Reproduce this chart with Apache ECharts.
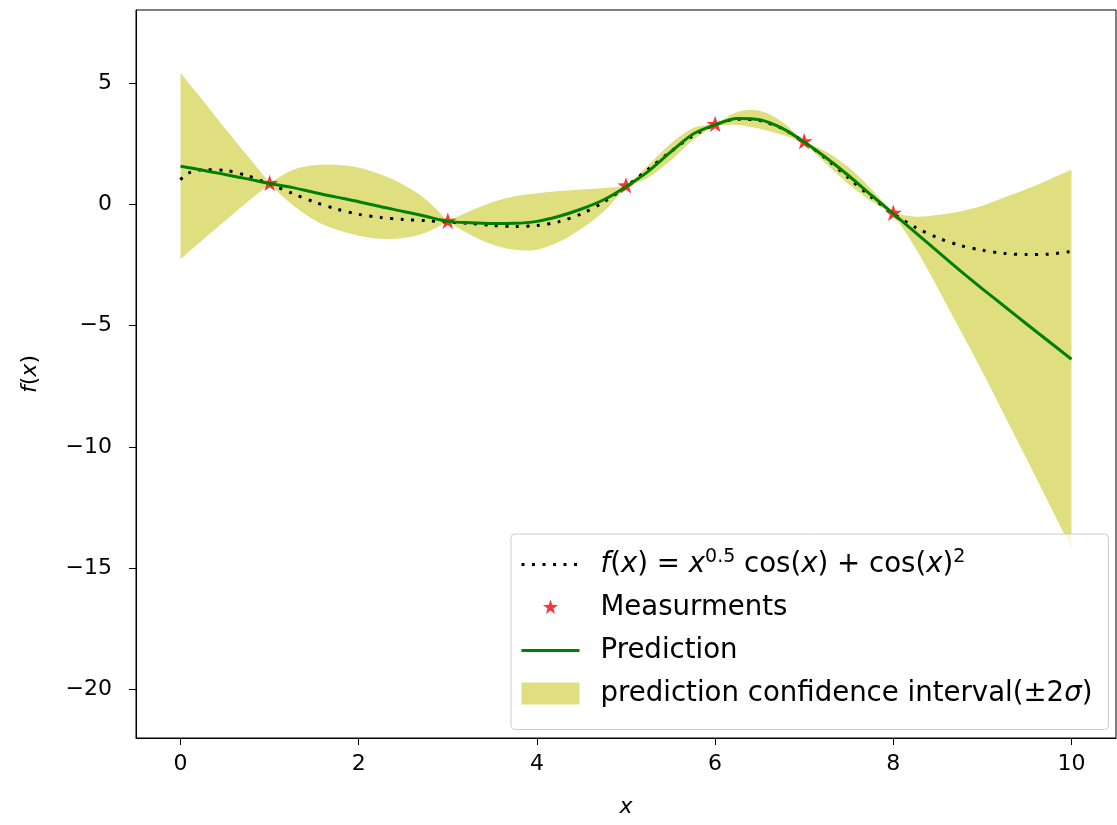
<!DOCTYPE html>
<html>
<head>
<meta charset="utf-8">
<title>GP regression</title>
<script src="https://cdn.jsdelivr.net/npm/echarts@6/dist/echarts.min.js"></script>
<style>
  html, body { margin: 0; padding: 0; background: #fff; }
  #chart { width: 1117px; height: 825px; }
</style>
</head>
<body>
<div id="chart"></div>
<script>
// true function
const trueX = [0, 0.05, 0.1, 0.25, 0.5, 0.75, 1, 1.25, 1.5, 1.75, 2, 2.25, 2.5, 2.75, 3, 3.25, 3.5, 3.75, 4, 4.25, 4.5, 4.75, 5,
  5.25, 5.5, 5.75, 6, 6.25, 6.5, 6.75, 7, 7.25, 7.5, 7.75, 8, 8.25, 8.5, 8.75, 9, 9.25, 9.5, 9.75, 10]
const trueY = [1.00, 1.22, 1.30, 1.42, 1.39, 1.17, 0.83, 0.45, 0.09, -0.20, -0.42, -0.55, -0.63, -0.68, -0.74, -0.80, -0.88, -0.92, -0.88, -0.72, -0.40, 0.08, 0.72,
  1.44, 2.16, 2.81, 3.27, 3.50, 3.44, 3.12, 2.56, 1.86, 1.07, 0.30, -0.39, -0.96, -1.39, -1.70, -1.90, -2.03, -2.08, -2.06, -1.95]

// measurements
const measX = [1, 3, 5, 6, 7, 8]
const measY = [0.84, -0.72, 0.74, 3.27, 2.56, -0.39]

// prediction and confidence band, same x grid
const gridX = [0, 0.25, 0.5, 0.75, 1, 1.25, 1.5, 1.75, 2, 2.25, 2.5, 2.75, 3, 3.25, 3.5, 3.75, 4, 4.25, 4.5, 4.75, 5,
  5.25, 5.5, 5.75, 6, 6.25, 6.5, 6.75, 7, 7.25, 7.5, 7.75, 8, 8.25, 8.5, 8.75, 9, 9.25, 9.5, 9.75, 10]
const predY = [1.56, 1.40, 1.22, 1.04, 0.85, 0.69, 0.48, 0.29, 0.10, -0.11, -0.30, -0.50, -0.71, -0.77, -0.80, -0.79, -0.71, -0.50, -0.20, 0.18, 0.72,
  1.35, 2.14, 2.88, 3.27, 3.53, 3.48, 3.13, 2.56, 1.90, 1.17, 0.38, -0.39, -1.17, -1.96, -2.74, -3.49, -4.22, -4.95, -5.67, -6.39]
const upperY = [5.40, 4.27, 3.12, 1.99, 0.87, 1.40, 1.60, 1.62, 1.50, 1.22, 0.80, 0.20, -0.69, -0.28, 0.08, 0.32, 0.45, 0.54, 0.60, 0.66, 0.74,
  1.60, 2.49, 3.13, 3.29, 3.80, 3.85, 3.40, 2.58, 2.15, 1.52, 0.63, -0.37, -0.52, -0.45, -0.30, -0.07, 0.28, 0.62, 1.02, 1.42]
const lowerY = [-2.26, -1.47, -0.68, 0.09, 0.83, -0.02, -0.65, -1.05, -1.30, -1.43, -1.40, -1.18, -0.73, -1.26, -1.66, -1.88, -1.88, -1.55, -1.00, -0.30, 0.70,
  1.10, 1.79, 2.63, 3.25, 3.26, 3.11, 2.86, 2.54, 1.65, 0.82, 0.13, -0.41, -1.82, -3.47, -5.18, -6.91, -8.72, -10.52, -12.36, -14.20]

const xTicks = [0, 2, 4, 6, 8, 10]
const yTicks = [-20, -15, -10, -5, 0, 5]

const fName = 'f(x) = x^0.5 cos(x) + cos(x)^2'
const measName = 'Measurments'
const predName = 'Prediction'
const bandName = 'prediction confidence interval(±2σ)'

const FONT = 'DejaVu Sans'
const bandColor = 'rgba(191,191,0,0.5)'
// star marker inside a padded box, so the legend icon keeps a sane size
const star = 'path://M0,0M100,100M50,14L58.23,38.67L84.24,38.88L63.32,54.33L71.16,79.12L50,64L28.84,79.12L36.68,54.33L15.76,38.88L41.77,38.67Z'

const pairs = (xs, ys) => xs.map((x, i) => [x, ys[i]])
const minus = v => String(v).replace('-', '\u2212')

// smooth edge through pixel points, with corners kept at the measurement pinches
function edgePath(pts, corners) {
  const n = pts.length
  const tangent = (i, out) => {
    if (i === 0 || i === n - 1 || corners.has(i)) {
      const a = out ? pts[i] : pts[i - 1]
      const b = out ? pts[i + 1] : pts[i]
      return [b[0] - a[0], b[1] - a[1]]
    }
    return [(pts[i + 1][0] - pts[i - 1][0]) / 2, (pts[i + 1][1] - pts[i - 1][1]) / 2]
  }
  let d = ''
  for (let i = 0; i < n - 1; i++) {
    const t0 = tangent(i, true)
    const t1 = tangent(i + 1, false)
    const p0 = pts[i]
    const p1 = pts[i + 1]
    d += ' C' + (p0[0] + t0[0] / 3) + ',' + (p0[1] + t0[1] / 3) + ' ' +
      (p1[0] - t1[0] / 3) + ',' + (p1[1] - t1[1] / 3) + ' ' + p1[0] + ',' + p1[1]
  }
  return d
}

const chart = echarts.init(document.getElementById('chart'))
chart.setOption({
  animation: false,
  textStyle: { fontFamily: FONT, color: '#000' },
  grid: {
    left: 136, right: 1, top: 10, bottom: 87,
    show: true, borderColor: '#000', borderWidth: 1
  },
  xAxis: {
    type: 'value',
    min: -0.5,
    max: 10.5,
    name: 'x',
    nameLocation: 'middle',
    nameGap: 58,
    nameTextStyle: { fontFamily: FONT, fontSize: 22, fontStyle: 'italic', color: '#000' },
    axisLine: { show: true, onZero: false, lineStyle: { color: '#000', width: 1 } },
    axisTick: { show: true, length: 7, customValues: xTicks, lineStyle: { color: '#000' } },
    axisLabel: { customValues: xTicks, margin: 15, fontSize: 22, color: '#000', fontFamily: FONT, formatter: minus },
    splitLine: { show: false }
  },
  yAxis: {
    type: 'value',
    min: -22,
    max: 8,
    name: '{i|f}({i|x})',
    nameLocation: 'middle',
    nameGap: 95,
    nameRotate: 90,
    nameTextStyle: {
      fontFamily: FONT, fontSize: 22, color: '#000',
      rich: { i: { fontFamily: FONT, fontSize: 22, fontStyle: 'italic', color: '#000' } }
    },
    axisLine: { show: true, onZero: false, lineStyle: { color: '#000', width: 1 } },
    axisTick: { show: true, length: 7, customValues: yTicks, lineStyle: { color: '#000' } },
    axisLabel: { customValues: yTicks, margin: 24, fontSize: 22, color: '#000', fontFamily: FONT, formatter: minus },
    splitLine: { show: false }
  },
  legend: {
    orient: 'vertical',
    left: 511,
    top: 534,
    padding: [14, 16, 21, 9],
    itemWidth: 58,
    itemHeight: 22,
    itemGap: 13,
    backgroundColor: 'rgba(255,255,255,0.8)',
    borderColor: '#cccccc',
    borderWidth: 1,
    borderRadius: 4,
    data: [
      { name: fName, itemStyle: { opacity: 0 }, lineStyle: { color: '#000', width: 3, type: [3, 7.5], cap: 'butt' } },
      measName,
      { name: predName, itemStyle: { opacity: 0 }, lineStyle: { color: '#008000', width: 3 } },
      { name: bandName, icon: 'rect' }
    ],
    formatter: name => {
      if (name === fName) return '{i|f}({i|x}) = {i|x}{sup|0.5} cos({i|x}) + cos({i|x}){sup|2}'
      if (name === bandName) return 'prediction confidence interval(\u00b12{i|\u03c3})'
      return name
    },
    textStyle: {
      fontFamily: FONT, fontSize: 27.6, color: '#000', lineHeight: 30, padding: [0, 0, 0, 16],
      rich: {
        i: { fontFamily: FONT, fontSize: 27.6, fontStyle: 'italic', color: '#000' },
        sup: { fontFamily: FONT, fontSize: 19, color: '#000', padding: [0, 0, 14, 0] }
      }
    }
  },
  series: [
    {
      name: bandName,
      type: 'custom',
      coordinateSystem: 'cartesian2d',
      silent: true,
      z: 1,
      itemStyle: { color: bandColor },
      data: [[0, 0]],
      renderItem: (params, api) => {
        const corners = new Set(measX.map(x => gridX.indexOf(x)))
        const up = gridX.map((x, i) => api.coord([x, upperY[i]]))
        const lo = gridX.map((x, i) => api.coord([x, lowerY[i]])).reverse()
        const loCorners = new Set([...corners].map(i => gridX.length - 1 - i))
        const d = 'M' + up[0][0] + ',' + up[0][1] + edgePath(up, corners) +
          ' L' + lo[0][0] + ',' + lo[0][1] + edgePath(lo, loCorners) + ' Z'
        return { type: 'path', shape: { pathData: d }, style: { fill: bandColor } }
      }
    },
    {
      name: fName,
      type: 'line',
      z: 2,
      smooth: 0.3,
      symbol: 'none',
      data: pairs(trueX, trueY),
      lineStyle: { color: '#000', width: 3, type: [3, 7.5], cap: 'butt' },
      itemStyle: { color: '#000' }
    },
    {
      name: measName,
      type: 'scatter',
      z: 3,
      symbol: star,
      symbolSize: 25,
      data: pairs(measX, measY),
      itemStyle: { color: '#ff0000' }
    },
    {
      name: predName,
      type: 'line',
      z: 4,
      smooth: 0.3,
      symbol: 'none',
      data: pairs(gridX, predY),
      lineStyle: { color: '#008000', width: 3 },
      itemStyle: { color: '#008000' }
    }
  ]
})
</script>
</body>
</html>
